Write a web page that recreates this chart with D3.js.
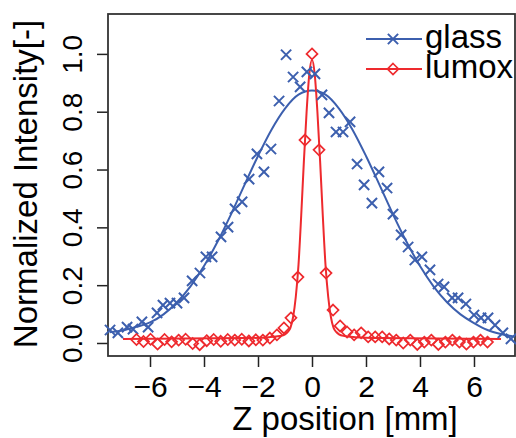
<!DOCTYPE html>
<html lang="en">
<head>
    <meta charset="UTF-8">
    <title>Z profile</title>
    <style>
        *{ box-sizing: border-box; }
        body{ margin: 0; background: #fff; }
        #main{ width: 516px; height: 438px; }
        text{ font-family: "Liberation Sans", Arial, sans-serif; fill: #000; }
    </style>
</head>
<body>
<div id="main"></div>
<script src="https://d3js.org/d3.v7.min.js"></script>
<script>
    /* ---- data ---- */
    // glass: measured points (x markers)
    const glassZ=[-7.48,-7.19,-6.85,-6.63,-6.30,-6.07,-5.74,-5.52,-5.26,-5.00,-4.74,-4.44,-4.15,-3.93,-3.70,-3.37,-3.11,-2.85,-2.59,-2.33,
        -2.04,-1.78,-1.52,-1.22,-0.96,-0.70,-0.44,-0.19,0.11,0.37,0.63,0.89,1.15,1.41,1.67,1.93,2.22,2.48,2.78,3.00,
        3.30,3.56,3.81,4.07,4.37,4.67,4.89,5.19,5.41,5.70,6.00,6.26,6.52,6.78,7.07,7.37]
    const glassI=[0.045,0.035,0.055,0.048,0.073,0.055,0.104,0.131,0.138,0.138,0.156,0.215,0.242,0.298,0.298,0.367,0.401,0.464,0.488,0.567,
        0.654,0.592,0.671,0.837,0.997,0.920,0.886,0.938,0.931,0.858,0.796,0.730,0.730,0.765,0.619,0.547,0.484,0.592,0.536,0.446,
        0.374,0.332,0.287,0.298,0.253,0.204,0.194,0.156,0.156,0.135,0.097,0.087,0.087,0.062,0.035,0.014]

    // glass: fitted curve
    const glassFitZ=[-7.5,-7,-6.5,-6,-5.5,-5,-4.5,-4,-3.5,-3,-2.5,-2,-1.5,-1,-0.5,0,0.5,1,1.5,2,2.5,3,3.5,4,4.5,5,5.5,6,6.5,7,7.5]
    const glassFitI=[0.037,0.044,0.056,0.071,0.099,0.141,0.196,0.266,0.350,0.445,0.547,0.647,0.738,0.811,0.859,0.873,
        0.859,0.811,0.738,0.647,0.547,0.445,0.350,0.266,0.196,0.141,0.099,0.069,0.045,0.031,0.022]

    // lumox: measured points (diamonds)
    const lumoxZ=[-6.50,-6.24,-5.98,-5.72,-5.46,-5.20,-4.94,-4.68,-4.42,-4.16,-3.90,-3.64,-3.38,-3.12,-2.86,-2.60,-2.34,-2.08,-1.82,-1.56,
        -1.30,-1.04,-0.78,-0.52,-0.26,0,0.26,0.52,0.78,1.04,1.30,1.56,1.82,2.08,2.34,2.60,2.86,3.12,3.38,3.64,
        3.90,4.16,4.42,4.68,4.94,5.20,5.46,5.72,5.98,6.24,6.50]
    const lumoxI=[0.012,0.005,0.013,-0.004,0.012,0.004,0.010,0.013,-0.002,-0.006,0.008,0.012,0.006,0.012,0.010,0.013,0.007,0.011,0.010,0.017,
        0.028,0.052,0.087,0.228,0.702,1.000,0.668,0.242,0.114,0.059,0.038,0.028,0.035,0.021,0.021,0.021,0.014,0.010,0.000,0.010,
        -0.005,0.003,0.010,-0.005,0.003,0.010,0.003,-0.004,0.003,0.010,0.003]

    // lumox: fitted curve
    const lumoxFitZ=[-7.0,-2.5,-1.6,-1.2,-1.0,-0.9,-0.8,-0.7,-0.6,-0.5,-0.4,-0.3,-0.2,-0.1,0,
        0.1,0.2,0.3,0.4,0.5,0.6,0.7,0.8,0.9,1.0,1.2,1.6,2.5,7.0]
    const lumoxFitI=[0.014,0.017,0.020,0.024,0.030,0.038,0.052,0.090,0.160,0.270,0.440,0.630,0.800,0.930,0.980,
        0.930,0.800,0.630,0.440,0.270,0.160,0.090,0.052,0.038,0.030,0.024,0.020,0.017,0.014]

    const xTicks=[-6,-4,-2,0,2,4,6]
    const yTicks=[0,0.2,0.4,0.6,0.8,1.0]
    const seriesNames=['glass','lumox']

    /* ---- layout ---- */
    const width=516
    const height=438
    const plot={left:108, top:14, right:515, bottom:356}
    const blue='#3c5fae'
    const red='#ee2a2e'

    const svg=d3.select('#main').append('svg')
        .attr('width',width)
        .attr('height',height)
        .attr('viewBox',`0 0 ${width} ${height}`)

    const xScale=d3.scaleLinear().domain([-7.556,7.519]).range([plot.left,plot.right])
    const yScale=d3.scaleLinear().domain([-0.045,1.138]).range([plot.bottom,plot.top])

    /* ---- axes ---- */
    const xAxis=svg.append('g')
        .attr('transform',`translate(0 ${plot.bottom})`)
        .call(d3.axisBottom(xScale).tickValues(xTicks).tickSize(11).tickSizeOuter(0))
    xAxis.select('.domain').remove()
    xAxis.selectAll('line').attr('stroke','#222').attr('stroke-width',1.5)
    xAxis.selectAll('text')
        .attr('y',41).attr('dy',0)
        .style('font-size','30px')
        .style('font-family','"Liberation Sans", Arial, sans-serif')
        .attr('fill','#000')

    const yAxis=svg.append('g')
        .attr('transform',`translate(${plot.left} 0)`)
        .call(d3.axisLeft(yScale).tickValues(yTicks).tickFormat(d3.format('.1f')).tickSize(11).tickSizeOuter(0))
    yAxis.select('.domain').remove()
    yAxis.selectAll('line').attr('stroke','#222').attr('stroke-width',1.5)
    yAxis.selectAll('text')
        .attr('x',0).attr('y',0).attr('dy',0)
        .attr('text-anchor','middle')
        .attr('transform','translate(-26 0) rotate(-90)')
        .style('font-size','28px')
        .style('font-family','"Liberation Sans", Arial, sans-serif')
        .attr('fill','#000')

    // frame
    svg.append('rect')
        .attr('x',plot.left).attr('y',plot.top)
        .attr('width',plot.right-plot.left).attr('height',plot.bottom-plot.top)
        .attr('fill','none').attr('stroke','#333').attr('stroke-width',1.8)

    // axis titles
    svg.append('text')
        .attr('x',345).attr('y',430)
        .attr('text-anchor','middle')
        .style('font-size','33px')
        .text('Z position [mm]')
    svg.append('text')
        .attr('transform','translate(37 184) rotate(-90)')
        .attr('text-anchor','middle')
        .style('font-size','33px')
        .text('Normalized Intensity[-]')

    /* ---- marks ---- */
    const line=d3.line()
        .x(d=>xScale(d[0]))
        .y(d=>yScale(d[1]))
        .curve(d3.curveMonotoneX)

    svg.append('path')
        .datum(d3.zip(glassFitZ,glassFitI))
        .attr('d',line)
        .attr('fill','none').attr('stroke',blue).attr('stroke-width',2)

    svg.append('path')
        .datum(d3.zip(lumoxFitZ,lumoxFitI))
        .attr('d',line)
        .attr('fill','none').attr('stroke',red).attr('stroke-width',2)

    const cross=d3.symbol().type(d3.symbolTimes).size(70)
    const diamond='M0,-5.5L5.5,0L0,5.5L-5.5,0Z'

    svg.append('g').selectAll('path')
        .data(d3.zip(glassZ,glassI))
        .join('path')
        .attr('transform',d=>`translate(${xScale(d[0])} ${yScale(d[1])})`)
        .attr('d',cross)
        .attr('fill','none').attr('stroke',blue).attr('stroke-width',2)

    svg.append('g').selectAll('path')
        .data(d3.zip(lumoxZ,lumoxI))
        .join('path')
        .attr('transform',d=>`translate(${xScale(d[0])} ${yScale(d[1])})`)
        .attr('d',diamond)
        .attr('fill','none').attr('stroke',red).attr('stroke-width',1.7)

    /* ---- legend ---- */
    const legend=svg.append('g')
    const legendY=[39,69]
    const legendColor=[blue,red]
    seriesNames.forEach((name,i)=>{
        const g=legend.append('g').attr('transform',`translate(0 ${legendY[i]})`)
        g.append('line').attr('x1',366).attr('x2',422).attr('y1',0).attr('y2',0)
            .attr('stroke',legendColor[i]).attr('stroke-width',2)
        g.append('path')
            .attr('transform','translate(393 0)')
            .attr('d',i===0?cross:diamond)
            .attr('fill','none').attr('stroke',legendColor[i]).attr('stroke-width',i===0?2:1.7)
        g.append('text')
            .attr('x',425).attr('y',9)
            .style('font-size','33px')
            .text(name)
    })
</script>
</body>
</html>
